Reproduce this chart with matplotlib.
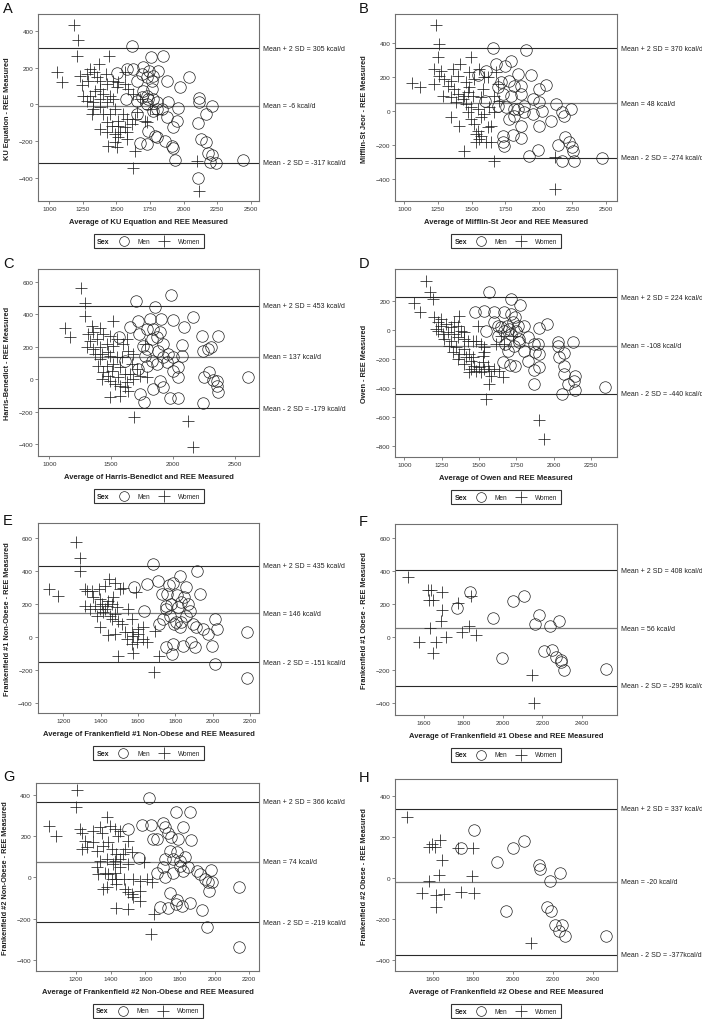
import matplotlib
matplotlib.use('Agg')
import matplotlib.pyplot as plt
import matplotlib.transforms as mtransforms
from matplotlib.lines import Line2D
from matplotlib.offsetbox import TextArea, DrawingArea, HPacker, AnchoredOffsetbox
import numpy as np

plt.rcParams['font.family'] = ['Liberation Sans', 'DejaVu Sans']

# ---------------- data (x = average, y = difference) ----------------
A_men = [(1618,319),(1760,256),(1849,261),(2038,151),(1971,95),(1502,171),(1576,192),(1626,192),(1700,201),(1742,183),
         (1812,183),(1688,165),(1725,147),(1775,156),(1874,129),(1651,129),(1571,30),(1700,75),(1763,84),(1688,39),
         (1738,30),(1775,30),(1730,3),(1800,12),(1887,12),(1961,-21),(1837,-24),(1775,-33),(1651,-52),(1874,-70),
         (1949,-88),(1800,-24),(1924,-124),(1738,-142),(1787,-169),(1800,-178),(1862,-196),(1675,-209),(1725,-214),(1911,-223),
         (1924,-237),(1936,-301),(2117,33),(2117,12),(2214,-6),(2167,-52),(2109,-102),(2132,-187),(2164,-201),(2184,-263),
         (2214,-274),(2197,-313),(2242,-319),(2445,-299),(2109,-400),(1651,16),(1725,48),(1763,129)]
A_women = [(1184,431),(1216,349),(1204,261),(1447,261),(1055,178),(1097,120),(1370,219),(1303,192),(1228,156),(1278,165),
           (1335,178),(1422,165),(1241,106),(1290,129),(1353,147),(1377,129),(1427,111),(1477,129),(1514,120),(1564,111),
           (1253,48),(1303,48),(1340,75),(1377,84),(1402,57),(1452,48),(1502,93),(1278,21),(1328,12),(1377,30),
           (1427,12),(1477,30),(1328,-24),(1377,-15),(1315,-52),(1402,-52),(1452,-52),(1489,-24),(1514,-88),(1551,-52),
           (1576,-79),(1427,-97),(1464,-115),(1514,-115),(1564,-124),(1613,-106),(1638,-79),(1377,-133),(1427,-151),(1489,-160),
           (1526,-151),(1576,-151),(1514,-178),(1489,-205),(1576,-187),(1439,-223),(1502,-232),(1638,-250),(1725,-97),(1800,-52),
           (1588,84),(1626,57),(1651,-42),(1675,30),(2097,-308),(2117,-467),(1626,-344),(1713,-88),(1750,-24),(1564,174)]

B_men = [(1657,371),(1905,361),(1682,278),(1793,298),(1749,269),(1607,239),(1545,214),(1942,216),(2054,157),(2004,131),
         (1843,220),(1868,151),(1818,151),(1781,180),(1719,171),(1694,141),(1868,102),(1793,92),(1731,102),(1600,63),
         (1694,33),(1756,24),(1843,14),(1892,33),(2004,53),(2128,43),(2240,14),(2024,4),(1954,-16),(1892,-6),
         (1818,-25),(1781,-45),(1868,-84),(2003,-84),(2091,-59),(2170,-6),(2189,-29),(1731,-143),(1731,-182),(1743,-202),
         (1806,-139),(1868,-159),(1992,-228),(1929,-261),(2197,-153),(2140,-196),(2227,-182),(2244,-212),(2252,-231),(2170,-294),
         (2259,-290),(2470,-275),(1813,14),(1954,73)]
B_women = [(1238,508),(1260,396),(1253,318),(1496,318),(1057,167),(1119,141),(1260,206),(1273,239),(1359,249),(1417,278),
           (1483,229),(1558,249),(1620,200),(1347,180),(1397,210),(1459,171),(1521,190),(1285,92),(1347,82),(1397,102),
           (1446,92),(1471,112),(1508,92),(1384,53),(1434,73),(1459,43),(1545,14),(1595,-16),(1632,23),(1670,-6),
           (1347,-35),(1409,-84),(1496,-45),(1570,-35),(1620,-94),(1521,-74),(1545,-114),(1533,-133),(1558,-163),(1608,-182),
           (1533,-178),(1645,-182),(1446,-231),(1664,-290),(2121,-457),(2123,-271),(1218,249),(1223,161),(1297,190),(1483,141),
           (1570,82),(1694,161),(1707,63),(1583,131),(1496,24),(1682,229),(1670,92),(1372,131),(1322,151),(1595,200),
           (1471,-6),(1570,-143),(1645,-84)]

C_men = [(1697,479),(1980,518),(1856,446),(1652,323),(1719,360),(1813,370),(1904,370),(1999,364),(2088,323),(2158,380),
         (1566,257),(1727,278),(1786,309),(1840,309),(1894,288),(1759,206),(1827,247),(1867,261),(1921,216),(1881,175),
         (1961,154),(2002,134),(2069,210),(2069,144),(1921,134),(1773,144),(1827,113),(1611,113),(1719,62),(1786,83),
         (1867,93),(1948,103),(2042,72),(2042,15),(2233,267),(2239,175),(2285,185),(2306,200),(2365,267),(2292,42),
         (2247,11),(2325,-6),(2352,-10),(2352,-41),(2365,-82),(2608,11),(2239,-149),(1733,-92),(1767,-143),(1840,-61),
         (1921,-51),(1894,-10),(1975,-117),(2042,-117),(2002,52),(1786,185)]
C_women = [(1256,559),(1288,469),(1288,391),(1129,315),(1167,261),(1512,360),(1315,278),(1355,288),(1409,315),(1436,278),
           (1490,267),(1328,237),(1382,247),(1302,196),(1355,185),(1409,196),(1463,216),(1517,206),(1625,247),(1598,216),
           (1369,154),(1423,154),(1476,165),(1409,124),(1490,144),(1544,134),(1396,83),(1463,83),(1517,93),(1436,42),
           (1503,52),(1571,72),(1423,1),(1476,21),(1557,11),(1611,31),(1665,93),(1705,62),(1530,-30),(1571,-41),
           (1625,-20),(1678,1),(1490,-108),(1571,-102),(1638,-71),(1732,21),(1490,-10),(1611,-51),(1687,-231),(2123,-256),
           (2158,-416),(1679,155),(1584,134),(1638,175),(1342,329),(1786,11),(1652,31),(1544,247),(1773,216)]

D_men = [(1569,257),(1714,211),(1777,173),(1473,125),(1536,131),(1603,120),(1670,120),(1714,108),(1741,86),(1547,-6),
         (1603,51),(1647,17),(1687,28),(1725,51),(1804,28),(1904,12),(1955,40),(1625,-40),(1670,-6),(1703,6),
         (1714,-29),(1748,-11),(1770,-63),(1826,-47),(1866,-97),(1893,-97),(1770,-86),(1692,-143),(1737,-109),(1804,-143),
         (1872,-155),(1904,-166),(1659,-223),(1710,-239),(1741,-246),(1826,-212),(1904,-258),(1866,-276),(1870,-372),(2027,-86),
         (2027,-109),(2127,-86),(2038,-189),(2071,-162),(2071,-246),(2071,-303),(2093,-372),(2134,-349),(2143,-315),(2053,-441),
         (2143,-413),(2346,-395),(1625,28),(1759,28),(1674,-97)]
D_women = [(1145,337),(1174,257),(1190,211),(1062,182),(1107,120),(1201,86),(1223,51),(1246,28),(1212,6),(1279,40),
           (1312,17),(1368,97),(1357,28),(1257,-29),(1290,-17),(1335,-29),(1268,-63),(1312,-75),(1357,-52),(1402,-63),
           (1424,-75),(1458,-79),(1480,-75),(1513,-97),(1301,-109),(1346,-120),(1324,-155),(1368,-166),(1402,-132),(1435,-166),
           (1413,-189),(1357,-200),(1402,-235),(1446,-212),(1469,-246),(1502,-258),(1524,-223),(1446,-269),(1480,-280),(1513,-292),
           (1435,-292),(1536,-269),(1558,-246),(1569,-280),(1603,-269),(1636,-280),(1580,-315),(1659,-326),(1536,-155),(1536,-120),
           (1524,-178),(1569,-372),(1547,-475),(1904,-619),(1933,-750),(1614,-97),(1670,-97),(1647,-40),(1725,-40),(1458,-189),
           (1379,-6),(1246,74),(1223,-6),(1402,-17),(1491,28),(1335,51)]

E_men = [(1682,444),(1918,400),(1825,374),(1650,323),(1707,343),(1580,303),(1768,319),(1786,329),(1857,303),(1727,263),
         (1753,263),(1811,257),(1848,242),(1933,263),(1634,162),(1714,81),(1732,111),(1752,192),(1752,172),(1779,202),
         (1815,182),(1832,212),(1771,131),(1793,81),(1830,91),(1825,61),(1859,131),(1876,162),(1894,81),(1911,61),
         (1950,51),(1977,20),(2012,111),(2021,51),(2182,30),(1750,-57),(1790,-40),(1780,-101),(1839,-50),(1882,-30),
         (1905,-61),(1998,-50),(2013,-161),(2182,-248),(1868,202),(1804,91)]
E_women = [(1268,576),(1289,481),(1289,404),(1123,293),(1173,249),(1313,293),(1325,283),(1388,293),(1423,309),(1446,354),
           (1477,329),(1504,293),(1521,297),(1361,242),(1396,232),(1441,222),(1468,242),(1589,273),(1316,192),(1343,172),
           (1370,192),(1396,172),(1432,192),(1459,202),(1486,182),(1548,172),(1379,131),(1414,151),(1450,131),(1477,141),
           (1396,61),(1459,111),(1495,101),(1513,81),(1566,111),(1602,51),(1628,61),(1441,14),(1477,20),(1530,30),
           (1566,34),(1539,-10),(1566,-40),(1593,-30),(1628,-10),(1646,-30),(1691,40),(1575,10),(1602,20),(1571,-95),
           (1491,-115),(1714,-111),(1688,-212),(1423,172),(1405,202),(1352,283)]

F_men = [(1836,277),(1768,176),(1952,119),(2053,222),(2105,253),(2184,137),(2164,81),(2238,67),(2285,101),(1996,-125),
         (2206,-81),(2248,-75),(2269,-117),(2294,-135),(2294,-151),(2311,-196),(2521,-192)]
F_women = [(1519,364),(1624,289),(1637,289),(1625,228),(1649,228),(1693,273),(1691,166),(1688,101),(1775,208),(1839,248),
           (1632,55),(1713,4),(1578,-30),(1662,-26),(1647,-95),(1792,30),(1831,71),(1864,14),(2147,-226),(2156,-400)]

G_men = [(1621,382),(1777,314),(1858,314),(1502,234),(1579,255),(1631,255),(1704,261),(1712,242),(1733,217),(1819,242),
         (1646,185),(1665,185),(1750,193),(1788,185),(1865,180),(1565,93),(1665,19),(1704,48),(1713,88),(1742,125),
         (1781,121),(1760,88),(1800,80),(1800,56),(1819,32),(1761,23),(1827,96),(1848,48),(1896,32),(1914,15),
         (1944,-9),(1963,-25),(1977,35),(1985,-25),(1967,-69),(1713,-1),(1742,-78),(1775,-130),(1783,-111),(1809,-138),
         (1858,-127),(1685,-143),(1733,-151),(1930,-157),(1958,-243),(2140,-46),(2140,-337)]
G_women = [(1204,424),(1200,339),(1042,250),(1083,201),(1223,234),(1233,217),(1296,225),(1338,242),(1348,217),(1377,290),
           (1396,250),(1425,234),(1444,201),(1454,225),(1502,177),(1233,137),(1265,145),(1300,169),(1319,129),(1358,153),
           (1387,169),(1410,137),(1433,112),(1473,112),(1338,80),(1377,88),(1415,64),(1425,80),(1454,88),(1502,64),
           (1319,48),(1367,23),(1387,15),(1425,23),(1454,48),(1329,15),(1406,-9),(1429,-9),(1477,-9),(1531,-9),
           (1569,-17),(1608,-9),(1637,-25),(1358,-57),(1377,-49),(1433,-33),(1483,-57),(1502,-73),(1521,-82),(1569,-65),
           (1531,-98),(1569,-114),(1502,-154),(1433,-149),(1650,-179),(1631,-275),(1592,72),(1483,137),(1521,121),(1252,177)]

H_men = [(1805,233),(1742,145),(2000,143),(2058,180),(1920,75),(2133,63),(2137,42),(2237,23),(2188,-18),(1967,-161),
         (2172,-145),(2192,-161),(2213,-229),(2247,-229),(2233,-259),(2263,-283),(2467,-283)]
H_women = [(1472,294),(1583,148),(1597,164),(1613,151),(1638,184),(1645,86),(1633,15),(1583,-18),(1545,-76),(1617,-83),
           (1655,-80),(1617,-145),(1742,-68),(1728,145),(1800,145),(1795,10),(1808,-76),(2092,-320)]

panel_letters = ['A', 'B', 'C', 'D', 'E', 'F', 'G', 'H']
men_sets = [A_men, B_men, C_men, D_men, E_men, F_men, G_men, H_men]
women_sets = [A_women, B_women, C_women, D_women, E_women, F_women, G_women, H_women]
upper_sd = [305, 370, 453, 224, 435, 408, 366, 337]
mean_diff = [-6, 48, 137, -108, 146, 56, 74, -20]
lower_sd = [-317, -274, -179, -440, -151, -295, -219, -377]
upper_texts = ['Mean + 2 SD = 305 kcal/d', 'Mean + 2 SD = 370 kcal/d', 'Mean + 2 SD = 453 kcal/d',
               'Mean + 2 SD = 224 kcal/d', 'Mean + 2 SD = 435 kcal/d', 'Mean + 2 SD = 408 kcal/d',
               'Mean + 2 SD = 366 kcal/d', 'Mean + 2 SD = 337 kcal/d']
mean_texts = ['Mean = -6 kcal/d', 'Mean = 48 kcal/d', 'Mean = 137 kcal/d', 'Mean = -108 kcal/d',
              'Mean = 146 kcal/d', 'Mean = 56 kcal/d', 'Mean = 74 kcal/d', 'Mean = -20 kcal/d']
lower_texts = ['Mean - 2 SD = -317 kcal/d', 'Mean - 2 SD = -274 kcal/d', 'Mean - 2 SD = -179 kcal/d',
               'Mean - 2 SD = -440 kcal/d', 'Mean - 2 SD = -151 kcal/d', 'Mean - 2 SD = -295 kcal/d',
               'Mean - 2 SD = -219 kcal/d', 'Mean - 2 SD = -377kcal/d']
y_labels = ['KU Equation - REE Measured', 'Mifflin-St Jeor - REE Measured', 'Harris-Benedict - REE Measured',
            'Owen - REE Measured', 'Frankenfield #1 Non-Obese - REE Measured', 'Frankenfield #1 Obese - REE Measured',
            'Frankenfield #2 Non-Obese - REE Measured', 'Frankenfield #2 Obese - REE Measured']
x_labels = ['Average of KU Equation and REE Measured', 'Average of Mifflin-St Jeor and REE Measured',
            'Average of Harris-Benedict and REE Measured', 'Average of Owen and REE Measured',
            'Average of Frankenfield #1 Non-Obese and REE Measured', 'Average of Frankenfield #1 Obese and REE Measured',
            'Average of Frankenfield #2 Non-Obese and REE Measured', 'Average of Frankenfield #2 Obese and REE Measured']
x_ticks = [[1000, 1250, 1500, 1750, 2000, 2250, 2500], [1000, 1250, 1500, 1750, 2000, 2250, 2500],
           [1000, 1500, 2000, 2500], [1000, 1250, 1500, 1750, 2000, 2250],
           [1200, 1400, 1600, 1800, 2000, 2200], [1600, 1800, 2000, 2200, 2400],
           [1200, 1400, 1600, 1800, 2000, 2200], [1600, 1800, 2000, 2200, 2400]]
y_ticks = [[-400, -200, 0, 200, 400], [-400, -200, 0, 200, 400], [-400, -200, 0, 200, 400, 600],
           [-800, -600, -400, -200, 0, 200], [-400, -200, 0, 200, 400, 600], [-400, -200, 0, 200, 400, 600],
           [-400, -200, 0, 200, 400], [-400, -200, 0, 200, 400]]
legend_labels = ['Sex', 'Men', 'Women']

# ---------------- layout (pixels in a 702 x 1020 canvas) ----------------
W, H = 702, 1020
boxes = [(38.3, 259.3, 15, 202.3), (395.3, 616.7, 15, 202.3),
         (38.3, 259.3, 270, 457.3), (395.3, 616.7, 270, 458.3),
         (37.7, 259.3, 524, 714.3), (395.3, 616.7, 525, 715.7),
         (36.0, 259.3, 784, 971.7), (395.3, 616.7, 780, 972.3)]
xlims = [(918, 2564), (933, 2579), (911, 2697), (940, 2422), (1062, 2250), (1457, 2575), (969, 2258), (1413, 2520)]
ylims = [(-525, 490), (-530, 573), (-476, 678), (-875, 417), (-461, 693), (-469, 687), (-453, 457), (-457, 481)]
letter_pos = [(3, 2), (359, 2), (3, 257), (359, 257), (3, 514), (359, 515), (3, 770), (359, 771)]

fig = plt.figure(figsize=(W / 100, H / 100), dpi=100)
fig.patch.set_facecolor('white')

TICK_FS = 4.6
LAB_FS = 5.3
ANN_FS = 5.0
frame_col = '#707070'
MS = 8.3

for i in range(8):
    l, r, t, b = boxes[i]
    ax = fig.add_axes([l / W, 1 - b / H, (r - l) / W, (b - t) / H])
    ax.set_xlim(*xlims[i])
    ax.set_ylim(*ylims[i])
    for sp in ax.spines.values():
        sp.set_color(frame_col)
        sp.set_linewidth(0.8)
    ax.set_xticks(x_ticks[i])
    ax.set_yticks(y_ticks[i])
    ax.tick_params(direction='out', length=2.0, width=0.5, color='#555555',
                   labelsize=TICK_FS, labelcolor='#333333', pad=1.5)

    # reference lines
    ax.axhline(upper_sd[i], color='#2a2a2a', lw=0.8, zorder=1)
    ax.axhline(lower_sd[i], color='#2a2a2a', lw=0.8, zorder=1)
    ax.axhline(mean_diff[i], color='#7a7a7a', lw=0.9, zorder=1)

    men = np.array(men_sets[i], dtype=float)
    women = np.array(women_sets[i], dtype=float)
    ax.plot(men[:, 0], men[:, 1], linestyle='none', marker='o', ms=MS, mfc='none',
            mec='#222222', mew=0.5, zorder=3)
    ax.plot(women[:, 0], women[:, 1], linestyle='none', marker='+', ms=MS + 0.4,
            mec='#222222', mew=0.55, zorder=3)

    trans = mtransforms.blended_transform_factory(ax.transAxes, ax.transData)
    xoff = 1 + 4.0 / (r - l)
    for val, txt in ((upper_sd[i], upper_texts[i]), (mean_diff[i], mean_texts[i]), (lower_sd[i], lower_texts[i])):
        ax.text(xoff, val, txt, transform=trans, fontsize=ANN_FS, color='#222222',
                ha='left', va='center', clip_on=False)

    ax.set_ylabel(y_labels[i], fontsize=LAB_FS, fontweight='bold', color='#222222')
    ax.set_xlabel(x_labels[i], fontsize=LAB_FS + 0.2, fontweight='bold', color='#222222')
    ax.yaxis.set_label_coords(-27.0 / (r - l), 0.5)
    ax.xaxis.set_label_coords(0.5, -17.0 / (b - t))
    ax.xaxis.label.set_va('top')

    # legend row: Sex  (o) Men  (+) Women
    t_sex = TextArea(legend_labels[0], textprops=dict(fontsize=LAB_FS - 0.2, fontweight='bold', color='#222222'))
    da1 = DrawingArea(10, 5, 0, 0)
    da1.add_artist(Line2D([5], [2.5], marker='o', ms=7.0, mfc='none', mec='#222222', mew=0.5, linestyle='none'))
    t_men = TextArea(legend_labels[1], textprops=dict(fontsize=ANN_FS - 0.3, color='#222222'))
    da2 = DrawingArea(10, 5, 0, 0)
    da2.add_artist(Line2D([5], [2.5], marker='+', ms=8.5, mec='#222222', mew=0.55, linestyle='none'))
    t_wom = TextArea(legend_labels[2], textprops=dict(fontsize=ANN_FS - 0.3, color='#222222'))
    row = HPacker(children=[t_sex, da1, t_men, da2, t_wom], align='center', pad=0, sep=5)
    anch = AnchoredOffsetbox(loc='upper center', child=row, pad=0.25, borderpad=0, frameon=True,
                             bbox_to_anchor=(0.5, -33.0 / (b - t)), bbox_transform=ax.transAxes)
    anch.patch.set_edgecolor('#333333')
    anch.patch.set_linewidth(0.8)
    anch.patch.set_boxstyle('square', pad=0)
    ax.add_artist(anch)

    lx, ly = letter_pos[i]
    fig.text(lx / W, 1 - ly / H, panel_letters[i], fontsize=10.5, ha='left', va='top', color='#111111')

fig.savefig('out.png', dpi=100, facecolor='white')
